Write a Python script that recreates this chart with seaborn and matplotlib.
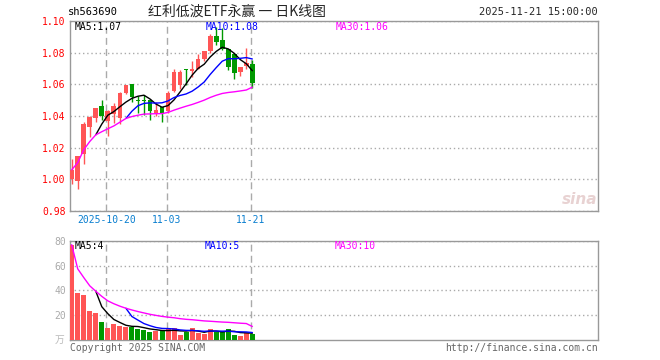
import matplotlib
matplotlib.use("Agg")
import matplotlib.pyplot as plt
import seaborn as sns
import pandas as pd
import numpy as np

# 日K数据
dates = ['10-10', '10-13', '10-14', '10-15', '10-16', '10-17', '10-20', '10-21', '10-22', '10-23',
         '10-24', '10-27', '10-28', '10-29', '10-30', '10-31', '11-03', '11-04', '11-05', '11-06',
         '11-07', '11-10', '11-11', '11-12', '11-13', '11-14', '11-17', '11-18', '11-19', '11-20', '11-21']
opens = [1.000, 0.999, 1.016, 1.033, 1.0385, 1.0464, 1.037, 1.041, 1.0387, 1.0548,
         1.0602, 1.0500, 1.0500, 1.0498, 1.0414, 1.0456, 1.043, 1.0555, 1.0596, 1.0692,
         1.0685, 1.070, 1.0762, 1.081, 1.0908, 1.0881, 1.0825, 1.0794, 1.0679, 1.0714, 1.0731]
highs = [1.013, 1.015, 1.036, 1.040, 1.045, 1.050, 1.0435, 1.048, 1.055, 1.0596,
         1.0602, 1.0527, 1.0533, 1.0505, 1.049, 1.046, 1.0555, 1.0696, 1.069, 1.070,
         1.0748, 1.0794, 1.081, 1.0915, 1.0964, 1.0956, 1.0825, 1.080, 1.071, 1.0831, 1.0756]
lows = [0.997, 0.994, 1.010, 1.027, 1.036, 1.0375, 1.0275, 1.0356, 1.035, 1.054,
        1.049, 1.0419, 1.0408, 1.0373, 1.040, 1.036, 1.042, 1.055, 1.057, 1.0596,
        1.0648, 1.070, 1.075, 1.080, 1.0846, 1.082, 1.069, 1.0631, 1.065, 1.070, 1.0575]
closes = [1.006, 1.015, 1.035, 1.0395, 1.045, 1.040, 1.043, 1.0464, 1.0548, 1.0596,
          1.0519, 1.0497, 1.0497, 1.0429, 1.0435, 1.0419, 1.0548, 1.0679, 1.0679, 1.0690,
          1.0694, 1.0762, 1.081, 1.0908, 1.0866, 1.0825, 1.071, 1.0669, 1.071, 1.0735, 1.0606]
volumes = [76.8, 37.9, 36.3, 23.6, 21.8, 14.5, 9.9, 12.9, 11.6, 10.5,
           10.2, 9.1, 8.3, 6.4, 7.5, 7.0, 8.6, 9.7, 4.0, 6.7,
           9.7, 5.9, 4.8, 8.9, 6.7, 6.4, 8.9, 4.3, 3.5, 5.6, 5.1]

price_ticks = [0.98, 1.00, 1.02, 1.04, 1.06, 1.08, 1.10]
vol_ticks = [20, 40, 60, 80]
date_marks = ['10-20', '11-03', '11-21']
date_labels = ['2025-10-20', '11-03', '11-21']

RED = '#ff5555'
GREEN = '#009900'

df = pd.DataFrame({'date': dates, 'open': opens, 'high': highs, 'low': lows,
                   'close': closes, 'vol': volumes})
df['i'] = np.arange(len(df))
df['dir'] = np.where(df['close'] >= df['open'], 'up', 'down')
df['ma5'] = df['close'].rolling(5).mean()
df['ma10'] = df['close'].rolling(10).mean()
df['ma30'] = df['close'].rolling(30, min_periods=1).mean()
df['vma5'] = df['vol'].rolling(5).mean()
df['vma10'] = df['vol'].rolling(10).mean()
df['vma30'] = df['vol'].rolling(30, min_periods=1).mean()

sns.set_style('white')
plt.rcParams['font.family'] = ['DejaVu Sans Mono', 'Noto Sans CJK SC']

W, H = 660, 360
fig = plt.figure(figsize=(6.6, 3.6), dpi=100)


def fx(x):
    return x / W


def fy(y):
    return 1 - y / H


ax1 = fig.add_axes([fx(70), fy(211), fx(528), 190 / H])
ax2 = fig.add_axes([fx(70), fy(340), fx(528), 99.3 / H])

xmin, xmax = -0.28, 87.4
mark_pos = [df.index[df['date'] == d][0] - 0.25 for d in date_marks]
colors = df['dir'].map({'up': RED, 'down': GREEN})

# 蜡烛
ax1.vlines(df['i'], df['low'], df['high'], colors=colors, lw=1, zorder=3)
body = (df['close'] - df['open']).abs().clip(lower=0.0004)
ax1.bar(df['i'], body, bottom=df[['open', 'close']].min(axis=1), width=0.78,
        color=colors, zorder=4, linewidth=0)
sns.lineplot(x=df['i'], y=df['ma5'], ax=ax1, color='black', lw=1, zorder=5)
sns.lineplot(x=df['i'], y=df['ma10'], ax=ax1, color='#0000ff', lw=1, zorder=5)
sns.lineplot(x=df['i'], y=df['ma30'], ax=ax1, color='#ff00ff', lw=1, zorder=5)

ax1.set_xlim(xmin, xmax)
ax1.set_ylim(0.98, 1.10)
ax1.set_yticks(price_ticks)
ax1.set_yticklabels(['%.2f' % v for v in price_ticks], color='#ff0000', fontsize=7)
ax1.set_xticks(mark_pos)
ax1.set_xticklabels(date_labels, color='#0a7fd0', fontsize=7)
ax1.tick_params(length=0, pad=3)
ax1.grid(axis='y', ls=(0, (1, 2)), color='#aaaaaa', lw=1)
ax1.grid(axis='x', ls=(0, (5, 3)), color='#aaaaaa', lw=1)
ax1.set_xlabel('')
ax1.set_ylabel('')

# 成交量
sns.barplot(x=df['i'], y=df['vol'], hue=df['dir'], palette={'up': RED, 'down': GREEN},
            native_scale=True, dodge=False, width=0.83, errorbar=None, legend=False,
            saturation=1, ax=ax2, linewidth=0, zorder=3)
sns.lineplot(x=df['i'], y=df['vma5'], ax=ax2, color='black', lw=1, zorder=5)
sns.lineplot(x=df['i'], y=df['vma10'], ax=ax2, color='#0000ff', lw=1, zorder=5)
sns.lineplot(x=df['i'], y=df['vma30'], ax=ax2, color='#ff00ff', lw=1, zorder=5)
ax2.set_xlim(xmin, xmax)
ax2.set_ylim(0, 80)
ax2.set_yticks(vol_ticks)
ax2.set_yticklabels([str(v) for v in vol_ticks], color='#aaaaaa', fontsize=7)
ax2.set_xticks(mark_pos)
ax2.set_xticklabels([])
ax2.tick_params(length=0, pad=3)
ax2.grid(axis='y', ls=(0, (1, 2)), color='#aaaaaa', lw=1)
ax2.grid(axis='x', ls=(0, (5, 3)), color='#aaaaaa', lw=1)
ax2.set_xlabel('')
ax2.set_ylabel('')

for ax in (ax1, ax2):
    ax.set_axisbelow(True)
    for s in ax.spines.values():
        s.set_color('#999999')
        s.set_linewidth(1)

# 文字
fig.text(fx(68), fy(12), 'sh563690', fontsize=7.5, va='center', ha='left', color='black')
fig.text(fx(237), fy(12), '红利低波ETF永赢 一 日K线图', fontsize=10, va='center', ha='center',
         family=['Noto Sans CJK SC', 'DejaVu Sans'])
fig.text(fx(598), fy(12), '2025-11-21 15:00:00', fontsize=7.5, va='center', ha='right')

fig.text(fx(75), fy(27), 'MA5:1.07', fontsize=7, va='center', color='black')
fig.text(fx(206), fy(27), 'MA10:1.08', fontsize=7, va='center', color='#0000ff')
fig.text(fx(336), fy(27), 'MA30:1.06', fontsize=7, va='center', color='#ff00ff')

fig.text(fx(75), fy(246), 'MA5:4', fontsize=7, va='center', color='black')
fig.text(fx(205), fy(246), 'MA10:5', fontsize=7, va='center', color='#0000ff')
fig.text(fx(335), fy(246), 'MA30:10', fontsize=7, va='center', color='#ff00ff')

fig.text(fx(64), fy(340), '万', fontsize=7, va='center', ha='right', color='#bbbbbb',
         family=['Noto Sans CJK SC', 'DejaVu Sans'])
fig.text(fx(70), fy(348), 'Copyright 2025 SINA.COM', fontsize=7, va='center', color='#666666')
fig.text(fx(598), fy(348), 'http://finance.sina.com.cn', fontsize=7, va='center', ha='right',
         color='#666666')
fig.text(fx(597), fy(200), 'sina', fontsize=11, va='center', ha='right', color='#e8d2d2',
         style='italic', weight='bold', family='DejaVu Sans')

fig.savefig('out.png', dpi=100)
